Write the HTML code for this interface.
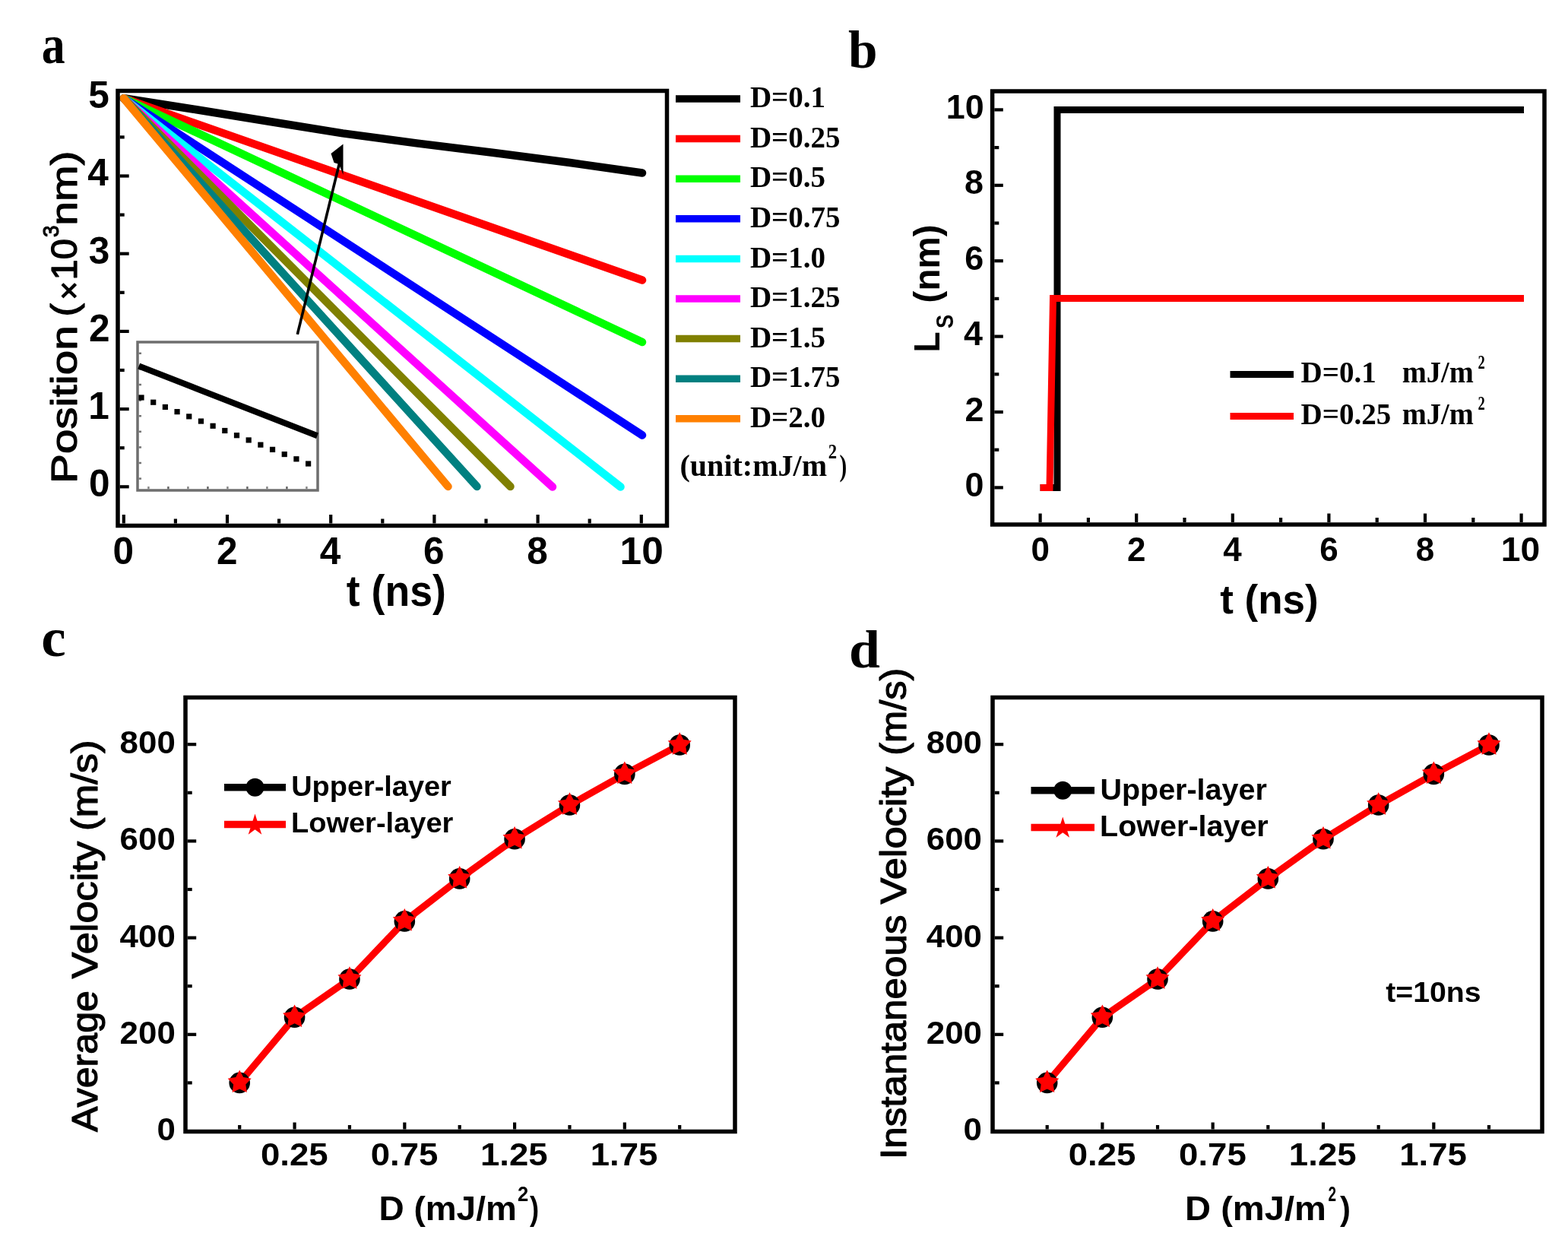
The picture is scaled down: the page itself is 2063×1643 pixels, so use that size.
<!DOCTYPE html>
<html><head><meta charset="utf-8"><title>Figure</title>
<style>html,body{margin:0;padding:0;background:#fff;}body{width:2063px;height:1643px;overflow:hidden;}svg{display:block;}</style>
</head><body>
<svg width="2063" height="1643" viewBox="0 0 2063 1643">
<rect width="2063" height="1643" fill="#fff"/>
<text x="54.79" y="82.6" style="font-family:'Liberation Serif','Times New Roman',Times,serif;font-size:71px;font-weight:bold" textLength="30.94" lengthAdjust="spacingAndGlyphs">a</text>
<line x1="157.7" y1="640.3" x2="169.7" y2="640.3" stroke="#000" stroke-width="4.2" stroke-linecap="butt"/>
<line x1="157.7" y1="589.2" x2="163.7" y2="589.2" stroke="#000" stroke-width="4.2" stroke-linecap="butt"/>
<line x1="157.7" y1="538.1" x2="169.7" y2="538.1" stroke="#000" stroke-width="4.2" stroke-linecap="butt"/>
<line x1="157.7" y1="487" x2="163.7" y2="487" stroke="#000" stroke-width="4.2" stroke-linecap="butt"/>
<line x1="157.7" y1="435.9" x2="169.7" y2="435.9" stroke="#000" stroke-width="4.2" stroke-linecap="butt"/>
<line x1="157.7" y1="384.8" x2="163.7" y2="384.8" stroke="#000" stroke-width="4.2" stroke-linecap="butt"/>
<line x1="157.7" y1="333.7" x2="169.7" y2="333.7" stroke="#000" stroke-width="4.2" stroke-linecap="butt"/>
<line x1="157.7" y1="282.6" x2="163.7" y2="282.6" stroke="#000" stroke-width="4.2" stroke-linecap="butt"/>
<line x1="157.7" y1="231.5" x2="169.7" y2="231.5" stroke="#000" stroke-width="4.2" stroke-linecap="butt"/>
<line x1="157.7" y1="180.4" x2="163.7" y2="180.4" stroke="#000" stroke-width="4.2" stroke-linecap="butt"/>
<line x1="157.7" y1="129.3" x2="169.7" y2="129.3" stroke="#000" stroke-width="4.2" stroke-linecap="butt"/>
<line x1="162.8" y1="688.5" x2="162.8" y2="677" stroke="#000" stroke-width="4.2" stroke-linecap="butt"/>
<line x1="230.9" y1="688.5" x2="230.9" y2="682.5" stroke="#000" stroke-width="4.2" stroke-linecap="butt"/>
<line x1="299" y1="688.5" x2="299" y2="677" stroke="#000" stroke-width="4.2" stroke-linecap="butt"/>
<line x1="367.1" y1="688.5" x2="367.1" y2="682.5" stroke="#000" stroke-width="4.2" stroke-linecap="butt"/>
<line x1="435.2" y1="688.5" x2="435.2" y2="677" stroke="#000" stroke-width="4.2" stroke-linecap="butt"/>
<line x1="503.3" y1="688.5" x2="503.3" y2="682.5" stroke="#000" stroke-width="4.2" stroke-linecap="butt"/>
<line x1="571.4" y1="688.5" x2="571.4" y2="677" stroke="#000" stroke-width="4.2" stroke-linecap="butt"/>
<line x1="639.5" y1="688.5" x2="639.5" y2="682.5" stroke="#000" stroke-width="4.2" stroke-linecap="butt"/>
<line x1="707.6" y1="688.5" x2="707.6" y2="677" stroke="#000" stroke-width="4.2" stroke-linecap="butt"/>
<line x1="775.7" y1="688.5" x2="775.7" y2="682.5" stroke="#000" stroke-width="4.2" stroke-linecap="butt"/>
<line x1="843.8" y1="688.5" x2="843.8" y2="677" stroke="#000" stroke-width="4.2" stroke-linecap="butt"/>
<polyline points="162.8,129.3 257,144 354,159.8 451,175.4 548,188.4 650,201 750,214 845,227.5" fill="none" stroke="#000" stroke-width="10.5" stroke-linecap="round" stroke-linejoin="round"/>
<line x1="162.8" y1="129.3" x2="845" y2="368.5" stroke="#FF0000" stroke-width="10.5" stroke-linecap="round"/>
<line x1="162.8" y1="129.3" x2="845" y2="450" stroke="#00FF00" stroke-width="10.5" stroke-linecap="round"/>
<line x1="162.8" y1="129.3" x2="845" y2="572.5" stroke="#0000FF" stroke-width="10.5" stroke-linecap="round"/>
<line x1="162.8" y1="129.3" x2="816.5" y2="640.5" stroke="#00FFFF" stroke-width="10.5" stroke-linecap="round"/>
<line x1="162.8" y1="129.3" x2="727" y2="640.5" stroke="#FF00FF" stroke-width="10.5" stroke-linecap="round"/>
<line x1="162.8" y1="129.3" x2="671.5" y2="640" stroke="#808000" stroke-width="10.5" stroke-linecap="round"/>
<line x1="162.8" y1="129.3" x2="627.5" y2="640" stroke="#008080" stroke-width="10.5" stroke-linecap="round"/>
<line x1="162.8" y1="129.3" x2="589.5" y2="640" stroke="#FF8000" stroke-width="10.5" stroke-linecap="round"/>
<rect x="181" y="450" width="237" height="195" fill="#fff" stroke="#6e6e6e" stroke-width="3.5"/>
<line x1="182.5" y1="464.8" x2="186" y2="464.8" stroke="#777" stroke-width="2.5" stroke-linecap="butt"/>
<line x1="182.5" y1="485.4" x2="186" y2="485.4" stroke="#777" stroke-width="2.5" stroke-linecap="butt"/>
<line x1="182.5" y1="506" x2="186" y2="506" stroke="#777" stroke-width="2.5" stroke-linecap="butt"/>
<line x1="182.5" y1="526.6" x2="186" y2="526.6" stroke="#777" stroke-width="2.5" stroke-linecap="butt"/>
<line x1="182.5" y1="547.2" x2="186" y2="547.2" stroke="#777" stroke-width="2.5" stroke-linecap="butt"/>
<line x1="182.5" y1="567.8" x2="186" y2="567.8" stroke="#777" stroke-width="2.5" stroke-linecap="butt"/>
<line x1="182.5" y1="588.4" x2="186" y2="588.4" stroke="#777" stroke-width="2.5" stroke-linecap="butt"/>
<line x1="182.5" y1="609" x2="186" y2="609" stroke="#777" stroke-width="2.5" stroke-linecap="butt"/>
<line x1="182.5" y1="629.6" x2="186" y2="629.6" stroke="#777" stroke-width="2.5" stroke-linecap="butt"/>
<line x1="195.4" y1="643.5" x2="195.4" y2="640" stroke="#888" stroke-width="2.5" stroke-linecap="butt"/>
<line x1="221.4" y1="643.5" x2="221.4" y2="640" stroke="#666" stroke-width="2.5" stroke-linecap="butt"/>
<line x1="247.4" y1="643.5" x2="247.4" y2="640" stroke="#888" stroke-width="2.5" stroke-linecap="butt"/>
<line x1="273.4" y1="643.5" x2="273.4" y2="640" stroke="#666" stroke-width="2.5" stroke-linecap="butt"/>
<line x1="299.4" y1="643.5" x2="299.4" y2="640" stroke="#888" stroke-width="2.5" stroke-linecap="butt"/>
<line x1="325.4" y1="643.5" x2="325.4" y2="640" stroke="#666" stroke-width="2.5" stroke-linecap="butt"/>
<line x1="351.4" y1="643.5" x2="351.4" y2="640" stroke="#888" stroke-width="2.5" stroke-linecap="butt"/>
<line x1="377.4" y1="643.5" x2="377.4" y2="640" stroke="#666" stroke-width="2.5" stroke-linecap="butt"/>
<line x1="403.4" y1="643.5" x2="403.4" y2="640" stroke="#888" stroke-width="2.5" stroke-linecap="butt"/>
<line x1="182.7" y1="481.5" x2="417.5" y2="573.2" stroke="#000" stroke-width="8" stroke-linecap="butt"/>
<rect x="182.4" y="519.4" width="7.2" height="7.2" fill="#000"/>
<rect x="198.09" y="525.61" width="7.2" height="7.2" fill="#000"/>
<rect x="213.77" y="531.83" width="7.2" height="7.2" fill="#000"/>
<rect x="229.46" y="538.04" width="7.2" height="7.2" fill="#000"/>
<rect x="245.14" y="544.26" width="7.2" height="7.2" fill="#000"/>
<rect x="260.83" y="550.47" width="7.2" height="7.2" fill="#000"/>
<rect x="276.51" y="556.69" width="7.2" height="7.2" fill="#000"/>
<rect x="292.2" y="562.9" width="7.2" height="7.2" fill="#000"/>
<rect x="307.89" y="569.11" width="7.2" height="7.2" fill="#000"/>
<rect x="323.57" y="575.33" width="7.2" height="7.2" fill="#000"/>
<rect x="339.26" y="581.54" width="7.2" height="7.2" fill="#000"/>
<rect x="354.94" y="587.76" width="7.2" height="7.2" fill="#000"/>
<rect x="370.63" y="593.97" width="7.2" height="7.2" fill="#000"/>
<rect x="386.31" y="600.19" width="7.2" height="7.2" fill="#000"/>
<rect x="402" y="606.4" width="7.2" height="7.2" fill="#000"/>
<line x1="391.3" y1="439.9" x2="446.5" y2="215" stroke="#000" stroke-width="3.6" stroke-linecap="butt"/>
<polygon points="451.5,189.5 435.5,202 439.5,214 446,216 451.5,230" fill="#000"/>
<rect x="155" y="119.5" width="722.5" height="572" fill="none" stroke="#000" stroke-width="5.5"/>
<text x="116.91" y="653.1" style="font-family:'Liberation Sans',Arial,Helvetica,sans-serif;font-size:49.5px;font-weight:bold" textLength="27.53" lengthAdjust="spacingAndGlyphs">0</text>
<text x="116.29" y="550.9" style="font-family:'Liberation Sans',Arial,Helvetica,sans-serif;font-size:49.5px;font-weight:bold" textLength="27.53" lengthAdjust="spacingAndGlyphs">1</text>
<text x="116.91" y="448.7" style="font-family:'Liberation Sans',Arial,Helvetica,sans-serif;font-size:49.5px;font-weight:bold" textLength="27.53" lengthAdjust="spacingAndGlyphs">2</text>
<text x="116.66" y="346.5" style="font-family:'Liberation Sans',Arial,Helvetica,sans-serif;font-size:49.5px;font-weight:bold" textLength="27.53" lengthAdjust="spacingAndGlyphs">3</text>
<text x="115.17" y="244.3" style="font-family:'Liberation Sans',Arial,Helvetica,sans-serif;font-size:49.5px;font-weight:bold" textLength="27.53" lengthAdjust="spacingAndGlyphs">4</text>
<text x="116.29" y="142.1" style="font-family:'Liberation Sans',Arial,Helvetica,sans-serif;font-size:49.5px;font-weight:bold" textLength="27.53" lengthAdjust="spacingAndGlyphs">5</text>
<text x="148.56" y="742.2" style="font-family:'Liberation Sans',Arial,Helvetica,sans-serif;font-size:49.5px;font-weight:bold" textLength="27.53" lengthAdjust="spacingAndGlyphs">0</text>
<text x="284.89" y="742.2" style="font-family:'Liberation Sans',Arial,Helvetica,sans-serif;font-size:49.5px;font-weight:bold" textLength="27.53" lengthAdjust="spacingAndGlyphs">2</text>
<text x="420.72" y="742.2" style="font-family:'Liberation Sans',Arial,Helvetica,sans-serif;font-size:49.5px;font-weight:bold" textLength="27.53" lengthAdjust="spacingAndGlyphs">4</text>
<text x="557.1" y="742.2" style="font-family:'Liberation Sans',Arial,Helvetica,sans-serif;font-size:49.5px;font-weight:bold" textLength="27.53" lengthAdjust="spacingAndGlyphs">6</text>
<text x="693.3" y="742.2" style="font-family:'Liberation Sans',Arial,Helvetica,sans-serif;font-size:49.5px;font-weight:bold" textLength="27.53" lengthAdjust="spacingAndGlyphs">8</text>
<text x="815.59" y="742.2" style="font-family:'Liberation Sans',Arial,Helvetica,sans-serif;font-size:49.5px;font-weight:bold" textLength="57.19" lengthAdjust="spacingAndGlyphs">10</text>
<text x="455.83" y="796.8" style="font-family:'Liberation Sans',Arial,Helvetica,sans-serif;font-size:57px;font-weight:bold" textLength="131.13" lengthAdjust="spacingAndGlyphs">t (ns)</text>
<text transform="translate(101,636.01) rotate(-90)" x="0" y="0" style="font-family:'Liberation Sans',Arial,Helvetica,sans-serif;font-size:48px;font-weight:normal;stroke:#000;stroke-width:1.2px;stroke-linejoin:round" textLength="207.62" lengthAdjust="spacingAndGlyphs">Position</text>
<text transform="translate(101,416.49) rotate(-90)" x="0" y="0" style="font-family:'Liberation Sans',Arial,Helvetica,sans-serif;font-size:48px;font-weight:normal;stroke:#000;stroke-width:1.2px;stroke-linejoin:round" textLength="17.51" lengthAdjust="spacingAndGlyphs">(</text>
<text transform="translate(104.7,394.44) rotate(-90)" x="0" y="0" style="font-family:'Liberation Sans',Arial,Helvetica,sans-serif;font-size:41.6px;font-weight:normal;stroke:#000;stroke-width:1.2px;stroke-linejoin:round" textLength="24.54" lengthAdjust="spacingAndGlyphs">×</text>
<text transform="translate(101,368.57) rotate(-90)" x="0" y="0" style="font-family:'Liberation Sans',Arial,Helvetica,sans-serif;font-size:48px;font-weight:normal;stroke:#000;stroke-width:1.2px;stroke-linejoin:round" textLength="54.42" lengthAdjust="spacingAndGlyphs">10</text>
<text transform="translate(76.5,312.04) rotate(-90)" x="0" y="0" style="font-family:'Liberation Sans',Arial,Helvetica,sans-serif;font-size:30px;font-weight:normal;stroke:#000;stroke-width:1.2px;stroke-linejoin:round" textLength="15.46" lengthAdjust="spacingAndGlyphs">3</text>
<text transform="translate(101,296.65) rotate(-90)" x="0" y="0" style="font-family:'Liberation Sans',Arial,Helvetica,sans-serif;font-size:48px;font-weight:normal;stroke:#000;stroke-width:1.2px;stroke-linejoin:round" textLength="98.19" lengthAdjust="spacingAndGlyphs">nm)</text>
<line x1="889" y1="130" x2="974" y2="130" stroke="#000000" stroke-width="9.5" stroke-linecap="butt"/>
<text x="986.92" y="141.1" style="font-family:'Liberation Serif','Times New Roman',Times,serif;font-size:39px;font-weight:bold" textLength="99.14" lengthAdjust="spacingAndGlyphs">D=0.1</text>
<line x1="889" y1="182.6" x2="974" y2="182.6" stroke="#FF0000" stroke-width="9.5" stroke-linecap="butt"/>
<text x="986.92" y="193.7" style="font-family:'Liberation Serif','Times New Roman',Times,serif;font-size:39px;font-weight:bold" textLength="118.64" lengthAdjust="spacingAndGlyphs">D=0.25</text>
<line x1="889" y1="235.2" x2="974" y2="235.2" stroke="#00FF00" stroke-width="9.5" stroke-linecap="butt"/>
<text x="986.92" y="246.3" style="font-family:'Liberation Serif','Times New Roman',Times,serif;font-size:39px;font-weight:bold" textLength="99.14" lengthAdjust="spacingAndGlyphs">D=0.5</text>
<line x1="889" y1="287.8" x2="974" y2="287.8" stroke="#0000FF" stroke-width="9.5" stroke-linecap="butt"/>
<text x="986.92" y="298.9" style="font-family:'Liberation Serif','Times New Roman',Times,serif;font-size:39px;font-weight:bold" textLength="118.64" lengthAdjust="spacingAndGlyphs">D=0.75</text>
<line x1="889" y1="340.4" x2="974" y2="340.4" stroke="#00FFFF" stroke-width="9.5" stroke-linecap="butt"/>
<text x="986.92" y="351.5" style="font-family:'Liberation Serif','Times New Roman',Times,serif;font-size:39px;font-weight:bold" textLength="99.14" lengthAdjust="spacingAndGlyphs">D=1.0</text>
<line x1="889" y1="393" x2="974" y2="393" stroke="#FF00FF" stroke-width="9.5" stroke-linecap="butt"/>
<text x="986.92" y="404.1" style="font-family:'Liberation Serif','Times New Roman',Times,serif;font-size:39px;font-weight:bold" textLength="118.64" lengthAdjust="spacingAndGlyphs">D=1.25</text>
<line x1="889" y1="445.6" x2="974" y2="445.6" stroke="#808000" stroke-width="9.5" stroke-linecap="butt"/>
<text x="986.92" y="456.7" style="font-family:'Liberation Serif','Times New Roman',Times,serif;font-size:39px;font-weight:bold" textLength="99.14" lengthAdjust="spacingAndGlyphs">D=1.5</text>
<line x1="889" y1="498.2" x2="974" y2="498.2" stroke="#008080" stroke-width="9.5" stroke-linecap="butt"/>
<text x="986.92" y="509.3" style="font-family:'Liberation Serif','Times New Roman',Times,serif;font-size:39px;font-weight:bold" textLength="118.64" lengthAdjust="spacingAndGlyphs">D=1.75</text>
<line x1="889" y1="550.8" x2="974" y2="550.8" stroke="#FF8000" stroke-width="9.5" stroke-linecap="butt"/>
<text x="986.92" y="561.9" style="font-family:'Liberation Serif','Times New Roman',Times,serif;font-size:39px;font-weight:bold" textLength="99.14" lengthAdjust="spacingAndGlyphs">D=2.0</text>
<text x="894.5" y="625.7" style="font-family:'Liberation Serif','Times New Roman',Times,serif;font-size:39px;font-weight:bold" textLength="193.63" lengthAdjust="spacingAndGlyphs">(unit:mJ/m</text>
<text x="1089.84" y="602.5" style="font-family:'Liberation Serif','Times New Roman',Times,serif;font-size:26.5px;font-weight:bold" textLength="11.33" lengthAdjust="spacingAndGlyphs">2</text>
<text x="1104.45" y="625.7" style="font-family:'Liberation Serif','Times New Roman',Times,serif;font-size:39px;font-weight:bold" textLength="9.7" lengthAdjust="spacingAndGlyphs">)</text>
<text x="1115.93" y="88.9" style="font-family:'Liberation Serif','Times New Roman',Times,serif;font-size:69.5px;font-weight:bold" textLength="38.52" lengthAdjust="spacingAndGlyphs">b</text>
<polyline points="1368.6,641.4 1391,641.4 1391,144.5 2005,144.5" fill="none" stroke="#000" stroke-width="9" stroke-linejoin="miter"/>
<polyline points="1368.6,641.4 1381,641.4 1385.5,392.5 2005,392.5" fill="none" stroke="#FF0000" stroke-width="9" stroke-linejoin="miter"/>
<rect x="1305.6" y="120" width="726.4" height="570" fill="none" stroke="#000" stroke-width="5.5"/>
<line x1="1308.3" y1="641.4" x2="1319.8" y2="641.4" stroke="#000" stroke-width="4.2" stroke-linecap="butt"/>
<line x1="1308.3" y1="591.7" x2="1314.3" y2="591.7" stroke="#000" stroke-width="4.2" stroke-linecap="butt"/>
<line x1="1308.3" y1="542" x2="1319.8" y2="542" stroke="#000" stroke-width="4.2" stroke-linecap="butt"/>
<line x1="1308.3" y1="492.3" x2="1314.3" y2="492.3" stroke="#000" stroke-width="4.2" stroke-linecap="butt"/>
<line x1="1308.3" y1="442.6" x2="1319.8" y2="442.6" stroke="#000" stroke-width="4.2" stroke-linecap="butt"/>
<line x1="1308.3" y1="392.9" x2="1314.3" y2="392.9" stroke="#000" stroke-width="4.2" stroke-linecap="butt"/>
<line x1="1308.3" y1="343.2" x2="1319.8" y2="343.2" stroke="#000" stroke-width="4.2" stroke-linecap="butt"/>
<line x1="1308.3" y1="293.5" x2="1314.3" y2="293.5" stroke="#000" stroke-width="4.2" stroke-linecap="butt"/>
<line x1="1308.3" y1="243.8" x2="1319.8" y2="243.8" stroke="#000" stroke-width="4.2" stroke-linecap="butt"/>
<line x1="1308.3" y1="194.1" x2="1314.3" y2="194.1" stroke="#000" stroke-width="4.2" stroke-linecap="butt"/>
<line x1="1308.3" y1="144.4" x2="1319.8" y2="144.4" stroke="#000" stroke-width="4.2" stroke-linecap="butt"/>
<line x1="1368.6" y1="687" x2="1368.6" y2="675.5" stroke="#000" stroke-width="4.2" stroke-linecap="butt"/>
<line x1="1431.9" y1="687" x2="1431.9" y2="681" stroke="#000" stroke-width="4.2" stroke-linecap="butt"/>
<line x1="1495.2" y1="687" x2="1495.2" y2="675.5" stroke="#000" stroke-width="4.2" stroke-linecap="butt"/>
<line x1="1558.5" y1="687" x2="1558.5" y2="681" stroke="#000" stroke-width="4.2" stroke-linecap="butt"/>
<line x1="1621.8" y1="687" x2="1621.8" y2="675.5" stroke="#000" stroke-width="4.2" stroke-linecap="butt"/>
<line x1="1685.1" y1="687" x2="1685.1" y2="681" stroke="#000" stroke-width="4.2" stroke-linecap="butt"/>
<line x1="1748.4" y1="687" x2="1748.4" y2="675.5" stroke="#000" stroke-width="4.2" stroke-linecap="butt"/>
<line x1="1811.7" y1="687" x2="1811.7" y2="681" stroke="#000" stroke-width="4.2" stroke-linecap="butt"/>
<line x1="1875" y1="687" x2="1875" y2="675.5" stroke="#000" stroke-width="4.2" stroke-linecap="butt"/>
<line x1="1938.3" y1="687" x2="1938.3" y2="681" stroke="#000" stroke-width="4.2" stroke-linecap="butt"/>
<line x1="2001.6" y1="687" x2="2001.6" y2="675.5" stroke="#000" stroke-width="4.2" stroke-linecap="butt"/>
<text x="1269.59" y="652.9" style="font-family:'Liberation Sans',Arial,Helvetica,sans-serif;font-size:44px;font-weight:bold" textLength="24.96" lengthAdjust="spacingAndGlyphs">0</text>
<text x="1356.39" y="737.6" style="font-family:'Liberation Sans',Arial,Helvetica,sans-serif;font-size:44px;font-weight:bold" textLength="24.47" lengthAdjust="spacingAndGlyphs">0</text>
<text x="1269.59" y="553.5" style="font-family:'Liberation Sans',Arial,Helvetica,sans-serif;font-size:44px;font-weight:bold" textLength="24.96" lengthAdjust="spacingAndGlyphs">2</text>
<text x="1483.1" y="737.6" style="font-family:'Liberation Sans',Arial,Helvetica,sans-serif;font-size:44px;font-weight:bold" textLength="24.47" lengthAdjust="spacingAndGlyphs">2</text>
<text x="1268.02" y="454.1" style="font-family:'Liberation Sans',Arial,Helvetica,sans-serif;font-size:44px;font-weight:bold" textLength="24.96" lengthAdjust="spacingAndGlyphs">4</text>
<text x="1609.37" y="737.6" style="font-family:'Liberation Sans',Arial,Helvetica,sans-serif;font-size:44px;font-weight:bold" textLength="24.47" lengthAdjust="spacingAndGlyphs">4</text>
<text x="1269.36" y="354.7" style="font-family:'Liberation Sans',Arial,Helvetica,sans-serif;font-size:44px;font-weight:bold" textLength="24.96" lengthAdjust="spacingAndGlyphs">6</text>
<text x="1736.13" y="737.6" style="font-family:'Liberation Sans',Arial,Helvetica,sans-serif;font-size:44px;font-weight:bold" textLength="24.47" lengthAdjust="spacingAndGlyphs">6</text>
<text x="1269.14" y="255.3" style="font-family:'Liberation Sans',Arial,Helvetica,sans-serif;font-size:44px;font-weight:bold" textLength="24.96" lengthAdjust="spacingAndGlyphs">8</text>
<text x="1862.73" y="737.6" style="font-family:'Liberation Sans',Arial,Helvetica,sans-serif;font-size:44px;font-weight:bold" textLength="24.47" lengthAdjust="spacingAndGlyphs">8</text>
<text x="1244.68" y="155.9" style="font-family:'Liberation Sans',Arial,Helvetica,sans-serif;font-size:44px;font-weight:bold" textLength="49.92" lengthAdjust="spacingAndGlyphs">10</text>
<text x="1974.72" y="737.6" style="font-family:'Liberation Sans',Arial,Helvetica,sans-serif;font-size:44px;font-weight:bold" textLength="51.34" lengthAdjust="spacingAndGlyphs">10</text>
<text x="1605.14" y="806.5" style="font-family:'Liberation Sans',Arial,Helvetica,sans-serif;font-size:54px;font-weight:bold" textLength="129.49" lengthAdjust="spacingAndGlyphs">t (ns)</text>
<text transform="translate(1236,463.49) rotate(-90)" x="0" y="0" style="font-family:'Liberation Sans',Arial,Helvetica,sans-serif;font-size:48px;font-weight:bold" textLength="27.06" lengthAdjust="spacingAndGlyphs">L</text>
<text transform="translate(1253.5,432.02) rotate(-90)" x="0" y="0" style="font-family:'Liberation Sans',Arial,Helvetica,sans-serif;font-size:31px;font-weight:bold" textLength="18.31" lengthAdjust="spacingAndGlyphs">S</text>
<text transform="translate(1236,398.38) rotate(-90)" x="0" y="0" style="font-family:'Liberation Sans',Arial,Helvetica,sans-serif;font-size:48px;font-weight:bold" textLength="103.01" lengthAdjust="spacingAndGlyphs">(nm)</text>
<line x1="1618.5" y1="492.4" x2="1702" y2="492.4" stroke="#000" stroke-width="9" stroke-linecap="butt"/>
<line x1="1618.5" y1="547.6" x2="1702" y2="547.6" stroke="#FF0000" stroke-width="9" stroke-linecap="butt"/>
<text x="1711.52" y="503.4" style="font-family:'Liberation Serif','Times New Roman',Times,serif;font-size:39px;font-weight:bold" textLength="99.14" lengthAdjust="spacingAndGlyphs">D=0.1</text>
<text x="1844.74" y="503.4" style="font-family:'Liberation Serif','Times New Roman',Times,serif;font-size:39px;font-weight:bold" textLength="94.09" lengthAdjust="spacingAndGlyphs">mJ/m</text>
<text x="1944.41" y="484.6" style="font-family:'Liberation Serif','Times New Roman',Times,serif;font-size:25px;font-weight:bold" textLength="9.28" lengthAdjust="spacingAndGlyphs">2</text>
<text x="1711.52" y="557.8" style="font-family:'Liberation Serif','Times New Roman',Times,serif;font-size:39px;font-weight:bold" textLength="118.64" lengthAdjust="spacingAndGlyphs">D=0.25</text>
<text x="1844.74" y="557.8" style="font-family:'Liberation Serif','Times New Roman',Times,serif;font-size:39px;font-weight:bold" textLength="94.09" lengthAdjust="spacingAndGlyphs">mJ/m</text>
<text x="1944.41" y="539" style="font-family:'Liberation Serif','Times New Roman',Times,serif;font-size:25px;font-weight:bold" textLength="9.28" lengthAdjust="spacingAndGlyphs">2</text>
<text x="54.35" y="863" style="font-family:'Liberation Serif','Times New Roman',Times,serif;font-size:72px;font-weight:bold" textLength="32.4" lengthAdjust="spacingAndGlyphs">c</text>
<polyline points="315.2,1424.4 387.57,1338.29 459.95,1287.98 532.33,1211.91 604.7,1155.88 677.08,1103.79 749.45,1059.02 821.83,1018.38 894.2,980.03" fill="none" stroke="#FF0000" stroke-width="9" stroke-linejoin="round"/>
<circle cx="315.2" cy="1424.4" r="13.8" fill="#000"/>
<polygon points="315.2,1407.6 320.18,1417.04 330.7,1418.86 323.26,1426.52 324.78,1437.09 315.2,1432.38 305.62,1437.09 307.14,1426.52 299.7,1418.86 310.22,1417.04" fill="#FF0000"/>
<circle cx="387.57" cy="1338.29" r="13.8" fill="#000"/>
<polygon points="387.57,1321.49 392.56,1330.93 403.08,1332.75 395.64,1340.4 397.16,1350.97 387.57,1346.26 377.99,1350.97 379.51,1340.4 372.07,1332.75 382.59,1330.93" fill="#FF0000"/>
<circle cx="459.95" cy="1287.98" r="13.8" fill="#000"/>
<polygon points="459.95,1271.18 464.93,1280.62 475.45,1282.44 468.01,1290.1 469.53,1300.66 459.95,1295.95 450.37,1300.66 451.89,1290.1 444.45,1282.44 454.97,1280.62" fill="#FF0000"/>
<circle cx="532.33" cy="1211.91" r="13.8" fill="#000"/>
<polygon points="532.33,1195.11 537.31,1204.56 547.83,1206.38 540.39,1214.03 541.91,1224.6 532.33,1219.89 522.74,1224.6 524.26,1214.03 516.82,1206.38 527.34,1204.56" fill="#FF0000"/>
<circle cx="604.7" cy="1155.88" r="13.8" fill="#000"/>
<polygon points="604.7,1139.08 609.68,1148.52 620.2,1150.34 612.76,1158 614.28,1168.57 604.7,1163.86 595.12,1168.57 596.64,1158 589.2,1150.34 599.72,1148.52" fill="#FF0000"/>
<circle cx="677.08" cy="1103.79" r="13.8" fill="#000"/>
<polygon points="677.08,1086.99 682.06,1096.44 692.58,1098.26 685.14,1105.91 686.66,1116.48 677.08,1111.77 667.49,1116.48 669.01,1105.91 661.57,1098.26 672.09,1096.44" fill="#FF0000"/>
<circle cx="749.45" cy="1059.02" r="13.8" fill="#000"/>
<polygon points="749.45,1042.22 754.43,1051.66 764.95,1053.48 757.51,1061.14 759.03,1071.7 749.45,1066.99 739.87,1071.7 741.39,1061.14 733.95,1053.48 744.47,1051.66" fill="#FF0000"/>
<circle cx="821.83" cy="1018.38" r="13.8" fill="#000"/>
<polygon points="821.83,1001.58 826.81,1011.02 837.33,1012.84 829.89,1020.5 831.41,1031.06 821.83,1026.35 812.24,1031.06 813.76,1020.5 806.32,1012.84 816.84,1011.02" fill="#FF0000"/>
<circle cx="894.2" cy="980.03" r="13.8" fill="#000"/>
<polygon points="894.2,963.23 899.18,972.67 909.7,974.49 902.26,982.15 903.78,992.71 894.2,988 884.62,992.71 886.14,982.15 878.7,974.49 889.22,972.67" fill="#FF0000"/>
<rect x="244" y="917.5" width="723" height="571" fill="none" stroke="#000" stroke-width="5.5"/>
<line x1="246.7" y1="1424.4" x2="252.7" y2="1424.4" stroke="#000" stroke-width="4.2" stroke-linecap="butt"/>
<line x1="246.7" y1="1360.8" x2="258.2" y2="1360.8" stroke="#000" stroke-width="4.2" stroke-linecap="butt"/>
<line x1="246.7" y1="1297.2" x2="252.7" y2="1297.2" stroke="#000" stroke-width="4.2" stroke-linecap="butt"/>
<line x1="246.7" y1="1233.6" x2="258.2" y2="1233.6" stroke="#000" stroke-width="4.2" stroke-linecap="butt"/>
<line x1="246.7" y1="1170" x2="252.7" y2="1170" stroke="#000" stroke-width="4.2" stroke-linecap="butt"/>
<line x1="246.7" y1="1106.4" x2="258.2" y2="1106.4" stroke="#000" stroke-width="4.2" stroke-linecap="butt"/>
<line x1="246.7" y1="1042.8" x2="252.7" y2="1042.8" stroke="#000" stroke-width="4.2" stroke-linecap="butt"/>
<line x1="246.7" y1="979.2" x2="258.2" y2="979.2" stroke="#000" stroke-width="4.2" stroke-linecap="butt"/>
<line x1="315.2" y1="1485.5" x2="315.2" y2="1480" stroke="#000" stroke-width="4.2" stroke-linecap="butt"/>
<line x1="387.57" y1="1485.5" x2="387.57" y2="1476.5" stroke="#000" stroke-width="4.2" stroke-linecap="butt"/>
<line x1="459.95" y1="1485.5" x2="459.95" y2="1480" stroke="#000" stroke-width="4.2" stroke-linecap="butt"/>
<line x1="532.33" y1="1485.5" x2="532.33" y2="1476.5" stroke="#000" stroke-width="4.2" stroke-linecap="butt"/>
<line x1="604.7" y1="1485.5" x2="604.7" y2="1480" stroke="#000" stroke-width="4.2" stroke-linecap="butt"/>
<line x1="677.08" y1="1485.5" x2="677.08" y2="1476.5" stroke="#000" stroke-width="4.2" stroke-linecap="butt"/>
<line x1="749.45" y1="1485.5" x2="749.45" y2="1480" stroke="#000" stroke-width="4.2" stroke-linecap="butt"/>
<line x1="821.83" y1="1485.5" x2="821.83" y2="1476.5" stroke="#000" stroke-width="4.2" stroke-linecap="butt"/>
<line x1="894.2" y1="1485.5" x2="894.2" y2="1480" stroke="#000" stroke-width="4.2" stroke-linecap="butt"/>
<text x="206.41" y="1500" style="font-family:'Liberation Sans',Arial,Helvetica,sans-serif;font-size:43px;font-weight:bold" textLength="24.39" lengthAdjust="spacingAndGlyphs">0</text>
<text x="157.62" y="1372.8" style="font-family:'Liberation Sans',Arial,Helvetica,sans-serif;font-size:43px;font-weight:bold" textLength="73.18" lengthAdjust="spacingAndGlyphs">200</text>
<text x="157.62" y="1245.6" style="font-family:'Liberation Sans',Arial,Helvetica,sans-serif;font-size:43px;font-weight:bold" textLength="73.18" lengthAdjust="spacingAndGlyphs">400</text>
<text x="157.62" y="1118.4" style="font-family:'Liberation Sans',Arial,Helvetica,sans-serif;font-size:43px;font-weight:bold" textLength="73.18" lengthAdjust="spacingAndGlyphs">600</text>
<text x="157.62" y="991.2" style="font-family:'Liberation Sans',Arial,Helvetica,sans-serif;font-size:43px;font-weight:bold" textLength="73.18" lengthAdjust="spacingAndGlyphs">800</text>
<text x="342.96" y="1533.2" style="font-family:'Liberation Sans',Arial,Helvetica,sans-serif;font-size:43px;font-weight:bold" textLength="88.72" lengthAdjust="spacingAndGlyphs">0.25</text>
<text x="487.71" y="1533.2" style="font-family:'Liberation Sans',Arial,Helvetica,sans-serif;font-size:43px;font-weight:bold" textLength="88.72" lengthAdjust="spacingAndGlyphs">0.75</text>
<text x="631.95" y="1533.2" style="font-family:'Liberation Sans',Arial,Helvetica,sans-serif;font-size:43px;font-weight:bold" textLength="88.72" lengthAdjust="spacingAndGlyphs">1.25</text>
<text x="776.7" y="1533.2" style="font-family:'Liberation Sans',Arial,Helvetica,sans-serif;font-size:43px;font-weight:bold" textLength="88.72" lengthAdjust="spacingAndGlyphs">1.75</text>
<text x="498.5" y="1605.2" style="font-family:'Liberation Sans',Arial,Helvetica,sans-serif;font-size:45px;font-weight:bold" textLength="181.28" lengthAdjust="spacingAndGlyphs">D (mJ/m</text>
<text x="681.1" y="1580.3" style="font-family:'Liberation Sans',Arial,Helvetica,sans-serif;font-size:27px;font-weight:bold" textLength="14.25" lengthAdjust="spacingAndGlyphs">2</text>
<text x="696.91" y="1605.2" style="font-family:'Liberation Sans',Arial,Helvetica,sans-serif;font-size:45px;font-weight:bold" textLength="12.13" lengthAdjust="spacingAndGlyphs">)</text>
<text transform="translate(127.8,1488.93) rotate(-90)" x="0" y="0" style="font-family:'Liberation Sans',Arial,Helvetica,sans-serif;font-size:48px;font-weight:normal;stroke:#000;stroke-width:1.2px;stroke-linejoin:round" textLength="185.84" lengthAdjust="spacingAndGlyphs">Average</text>
<text transform="translate(127.8,1287.46) rotate(-90)" x="0" y="0" style="font-family:'Liberation Sans',Arial,Helvetica,sans-serif;font-size:48px;font-weight:normal;stroke:#000;stroke-width:1.2px;stroke-linejoin:round" textLength="180.74" lengthAdjust="spacingAndGlyphs">Velocity</text>
<text transform="translate(127.8,1092.98) rotate(-90)" x="0" y="0" style="font-family:'Liberation Sans',Arial,Helvetica,sans-serif;font-size:48px;font-weight:normal;stroke:#000;stroke-width:1.2px;stroke-linejoin:round" textLength="119.42" lengthAdjust="spacingAndGlyphs">(m/s)</text>
<line x1="295" y1="1035.8" x2="376" y2="1035.8" stroke="#000" stroke-width="9.5" stroke-linecap="butt"/>
<circle cx="335.5" cy="1035.8" r="12" fill="#000"/>
<line x1="295" y1="1084.6" x2="376" y2="1084.6" stroke="#FF0000" stroke-width="9.5" stroke-linecap="butt"/>
<polygon points="335.5,1070.6 338.85,1080.99 349.77,1080.96 340.92,1087.36 344.32,1097.74 335.5,1091.3 326.68,1097.74 330.08,1087.36 321.23,1080.96 332.15,1080.99" fill="#FF0000"/>
<text x="383.23" y="1047.1" style="font-family:'Liberation Sans',Arial,Helvetica,sans-serif;font-size:37.5px;font-weight:bold" textLength="210.65" lengthAdjust="spacingAndGlyphs">Upper-layer</text>
<text x="382.93" y="1095.1" style="font-family:'Liberation Sans',Arial,Helvetica,sans-serif;font-size:37.5px;font-weight:bold" textLength="213.48" lengthAdjust="spacingAndGlyphs">Lower-layer</text>
<text x="1117.06" y="878" style="font-family:'Liberation Serif','Times New Roman',Times,serif;font-size:70px;font-weight:bold" textLength="40.86" lengthAdjust="spacingAndGlyphs">d</text>
<polyline points="1377.7,1424.4 1450.36,1338.29 1523.02,1287.98 1595.68,1211.91 1668.34,1155.88 1741,1103.79 1813.66,1059.02 1886.32,1018.38 1958.98,980.03" fill="none" stroke="#FF0000" stroke-width="9" stroke-linejoin="round"/>
<circle cx="1377.7" cy="1424.4" r="13.8" fill="#000"/>
<polygon points="1377.7,1407.6 1382.68,1417.04 1393.2,1418.86 1385.76,1426.52 1387.28,1437.09 1377.7,1432.38 1368.12,1437.09 1369.64,1426.52 1362.2,1418.86 1372.72,1417.04" fill="#FF0000"/>
<circle cx="1450.36" cy="1338.29" r="13.8" fill="#000"/>
<polygon points="1450.36,1321.49 1455.34,1330.93 1465.86,1332.75 1458.42,1340.4 1459.94,1350.97 1450.36,1346.26 1440.78,1350.97 1442.3,1340.4 1434.86,1332.75 1445.38,1330.93" fill="#FF0000"/>
<circle cx="1523.02" cy="1287.98" r="13.8" fill="#000"/>
<polygon points="1523.02,1271.18 1528,1280.62 1538.52,1282.44 1531.08,1290.1 1532.6,1300.66 1523.02,1295.95 1513.44,1300.66 1514.96,1290.1 1507.52,1282.44 1518.04,1280.62" fill="#FF0000"/>
<circle cx="1595.68" cy="1211.91" r="13.8" fill="#000"/>
<polygon points="1595.68,1195.11 1600.66,1204.56 1611.18,1206.38 1603.74,1214.03 1605.26,1224.6 1595.68,1219.89 1586.1,1224.6 1587.62,1214.03 1580.18,1206.38 1590.7,1204.56" fill="#FF0000"/>
<circle cx="1668.34" cy="1155.88" r="13.8" fill="#000"/>
<polygon points="1668.34,1139.08 1673.32,1148.52 1683.84,1150.34 1676.4,1158 1677.92,1168.57 1668.34,1163.86 1658.76,1168.57 1660.28,1158 1652.84,1150.34 1663.36,1148.52" fill="#FF0000"/>
<circle cx="1741" cy="1103.79" r="13.8" fill="#000"/>
<polygon points="1741,1086.99 1745.98,1096.44 1756.5,1098.26 1749.06,1105.91 1750.58,1116.48 1741,1111.77 1731.42,1116.48 1732.94,1105.91 1725.5,1098.26 1736.02,1096.44" fill="#FF0000"/>
<circle cx="1813.66" cy="1059.02" r="13.8" fill="#000"/>
<polygon points="1813.66,1042.22 1818.64,1051.66 1829.16,1053.48 1821.72,1061.14 1823.24,1071.7 1813.66,1066.99 1804.08,1071.7 1805.6,1061.14 1798.16,1053.48 1808.68,1051.66" fill="#FF0000"/>
<circle cx="1886.32" cy="1018.38" r="13.8" fill="#000"/>
<polygon points="1886.32,1001.58 1891.3,1011.02 1901.82,1012.84 1894.38,1020.5 1895.9,1031.06 1886.32,1026.35 1876.74,1031.06 1878.26,1020.5 1870.82,1012.84 1881.34,1011.02" fill="#FF0000"/>
<circle cx="1958.98" cy="980.03" r="13.8" fill="#000"/>
<polygon points="1958.98,963.23 1963.96,972.67 1974.48,974.49 1967.04,982.15 1968.56,992.71 1958.98,988 1949.4,992.71 1950.92,982.15 1943.48,974.49 1954,972.67" fill="#FF0000"/>
<rect x="1306" y="917.5" width="723" height="571" fill="none" stroke="#000" stroke-width="5.5"/>
<line x1="1308.7" y1="1424.4" x2="1314.7" y2="1424.4" stroke="#000" stroke-width="4.2" stroke-linecap="butt"/>
<line x1="1308.7" y1="1360.8" x2="1320.2" y2="1360.8" stroke="#000" stroke-width="4.2" stroke-linecap="butt"/>
<line x1="1308.7" y1="1297.2" x2="1314.7" y2="1297.2" stroke="#000" stroke-width="4.2" stroke-linecap="butt"/>
<line x1="1308.7" y1="1233.6" x2="1320.2" y2="1233.6" stroke="#000" stroke-width="4.2" stroke-linecap="butt"/>
<line x1="1308.7" y1="1170" x2="1314.7" y2="1170" stroke="#000" stroke-width="4.2" stroke-linecap="butt"/>
<line x1="1308.7" y1="1106.4" x2="1320.2" y2="1106.4" stroke="#000" stroke-width="4.2" stroke-linecap="butt"/>
<line x1="1308.7" y1="1042.8" x2="1314.7" y2="1042.8" stroke="#000" stroke-width="4.2" stroke-linecap="butt"/>
<line x1="1308.7" y1="979.2" x2="1320.2" y2="979.2" stroke="#000" stroke-width="4.2" stroke-linecap="butt"/>
<line x1="1377.7" y1="1485.5" x2="1377.7" y2="1480" stroke="#000" stroke-width="4.2" stroke-linecap="butt"/>
<line x1="1450.36" y1="1485.5" x2="1450.36" y2="1476.5" stroke="#000" stroke-width="4.2" stroke-linecap="butt"/>
<line x1="1523.02" y1="1485.5" x2="1523.02" y2="1480" stroke="#000" stroke-width="4.2" stroke-linecap="butt"/>
<line x1="1595.68" y1="1485.5" x2="1595.68" y2="1476.5" stroke="#000" stroke-width="4.2" stroke-linecap="butt"/>
<line x1="1668.34" y1="1485.5" x2="1668.34" y2="1480" stroke="#000" stroke-width="4.2" stroke-linecap="butt"/>
<line x1="1741" y1="1485.5" x2="1741" y2="1476.5" stroke="#000" stroke-width="4.2" stroke-linecap="butt"/>
<line x1="1813.66" y1="1485.5" x2="1813.66" y2="1480" stroke="#000" stroke-width="4.2" stroke-linecap="butt"/>
<line x1="1886.32" y1="1485.5" x2="1886.32" y2="1476.5" stroke="#000" stroke-width="4.2" stroke-linecap="butt"/>
<line x1="1958.98" y1="1485.5" x2="1958.98" y2="1480" stroke="#000" stroke-width="4.2" stroke-linecap="butt"/>
<text x="1267.61" y="1500" style="font-family:'Liberation Sans',Arial,Helvetica,sans-serif;font-size:43px;font-weight:bold" textLength="24.39" lengthAdjust="spacingAndGlyphs">0</text>
<text x="1218.82" y="1372.8" style="font-family:'Liberation Sans',Arial,Helvetica,sans-serif;font-size:43px;font-weight:bold" textLength="73.18" lengthAdjust="spacingAndGlyphs">200</text>
<text x="1218.82" y="1245.6" style="font-family:'Liberation Sans',Arial,Helvetica,sans-serif;font-size:43px;font-weight:bold" textLength="73.18" lengthAdjust="spacingAndGlyphs">400</text>
<text x="1218.82" y="1118.4" style="font-family:'Liberation Sans',Arial,Helvetica,sans-serif;font-size:43px;font-weight:bold" textLength="73.18" lengthAdjust="spacingAndGlyphs">600</text>
<text x="1218.82" y="991.2" style="font-family:'Liberation Sans',Arial,Helvetica,sans-serif;font-size:43px;font-weight:bold" textLength="73.18" lengthAdjust="spacingAndGlyphs">800</text>
<text x="1405.75" y="1533.2" style="font-family:'Liberation Sans',Arial,Helvetica,sans-serif;font-size:43px;font-weight:bold" textLength="88.72" lengthAdjust="spacingAndGlyphs">0.25</text>
<text x="1551.07" y="1533.2" style="font-family:'Liberation Sans',Arial,Helvetica,sans-serif;font-size:43px;font-weight:bold" textLength="88.72" lengthAdjust="spacingAndGlyphs">0.75</text>
<text x="1695.88" y="1533.2" style="font-family:'Liberation Sans',Arial,Helvetica,sans-serif;font-size:43px;font-weight:bold" textLength="88.72" lengthAdjust="spacingAndGlyphs">1.25</text>
<text x="1841.2" y="1533.2" style="font-family:'Liberation Sans',Arial,Helvetica,sans-serif;font-size:43px;font-weight:bold" textLength="88.72" lengthAdjust="spacingAndGlyphs">1.75</text>
<text x="1559.02" y="1605.2" style="font-family:'Liberation Sans',Arial,Helvetica,sans-serif;font-size:45px;font-weight:bold" textLength="185.93" lengthAdjust="spacingAndGlyphs">D (mJ/m</text>
<text x="1747.44" y="1580.3" style="font-family:'Liberation Sans',Arial,Helvetica,sans-serif;font-size:27px;font-weight:bold" textLength="10.54" lengthAdjust="spacingAndGlyphs">2</text>
<text x="1763.1" y="1605.2" style="font-family:'Liberation Sans',Arial,Helvetica,sans-serif;font-size:45px;font-weight:bold" textLength="13.91" lengthAdjust="spacingAndGlyphs">)</text>
<text transform="translate(1192,1524.93) rotate(-90)" x="0" y="0" style="font-family:'Liberation Sans',Arial,Helvetica,sans-serif;font-size:48px;font-weight:normal;stroke:#000;stroke-width:1.2px;stroke-linejoin:round" textLength="321.45" lengthAdjust="spacingAndGlyphs">Instantaneous</text>
<text transform="translate(1192,1189.46) rotate(-90)" x="0" y="0" style="font-family:'Liberation Sans',Arial,Helvetica,sans-serif;font-size:48px;font-weight:normal;stroke:#000;stroke-width:1.2px;stroke-linejoin:round" textLength="180.74" lengthAdjust="spacingAndGlyphs">Velocity</text>
<text transform="translate(1192,993.86) rotate(-90)" x="0" y="0" style="font-family:'Liberation Sans',Arial,Helvetica,sans-serif;font-size:48px;font-weight:normal;stroke:#000;stroke-width:1.2px;stroke-linejoin:round" textLength="115.19" lengthAdjust="spacingAndGlyphs">(m/s)</text>
<line x1="1356.5" y1="1039.8" x2="1440" y2="1039.8" stroke="#000" stroke-width="9.5" stroke-linecap="butt"/>
<circle cx="1398.25" cy="1039.8" r="12" fill="#000"/>
<line x1="1356.5" y1="1088.6" x2="1440" y2="1088.6" stroke="#FF0000" stroke-width="9.5" stroke-linecap="butt"/>
<polygon points="1398.25,1074.6 1401.6,1084.99 1412.52,1084.96 1403.67,1091.36 1407.07,1101.74 1398.25,1095.3 1389.43,1101.74 1392.83,1091.36 1383.98,1084.96 1394.9,1084.99" fill="#FF0000"/>
<text x="1447.43" y="1051.7" style="font-family:'Liberation Sans',Arial,Helvetica,sans-serif;font-size:38.4px;font-weight:bold" textLength="219.37" lengthAdjust="spacingAndGlyphs">Upper-layer</text>
<text x="1447.14" y="1100.3" style="font-family:'Liberation Sans',Arial,Helvetica,sans-serif;font-size:38.4px;font-weight:bold" textLength="221.6" lengthAdjust="spacingAndGlyphs">Lower-layer</text>
<text x="1823.31" y="1317.5" style="font-family:'Liberation Sans',Arial,Helvetica,sans-serif;font-size:37px;font-weight:bold" textLength="125.31" lengthAdjust="spacingAndGlyphs">t=10ns</text>
</svg>
</body></html>
